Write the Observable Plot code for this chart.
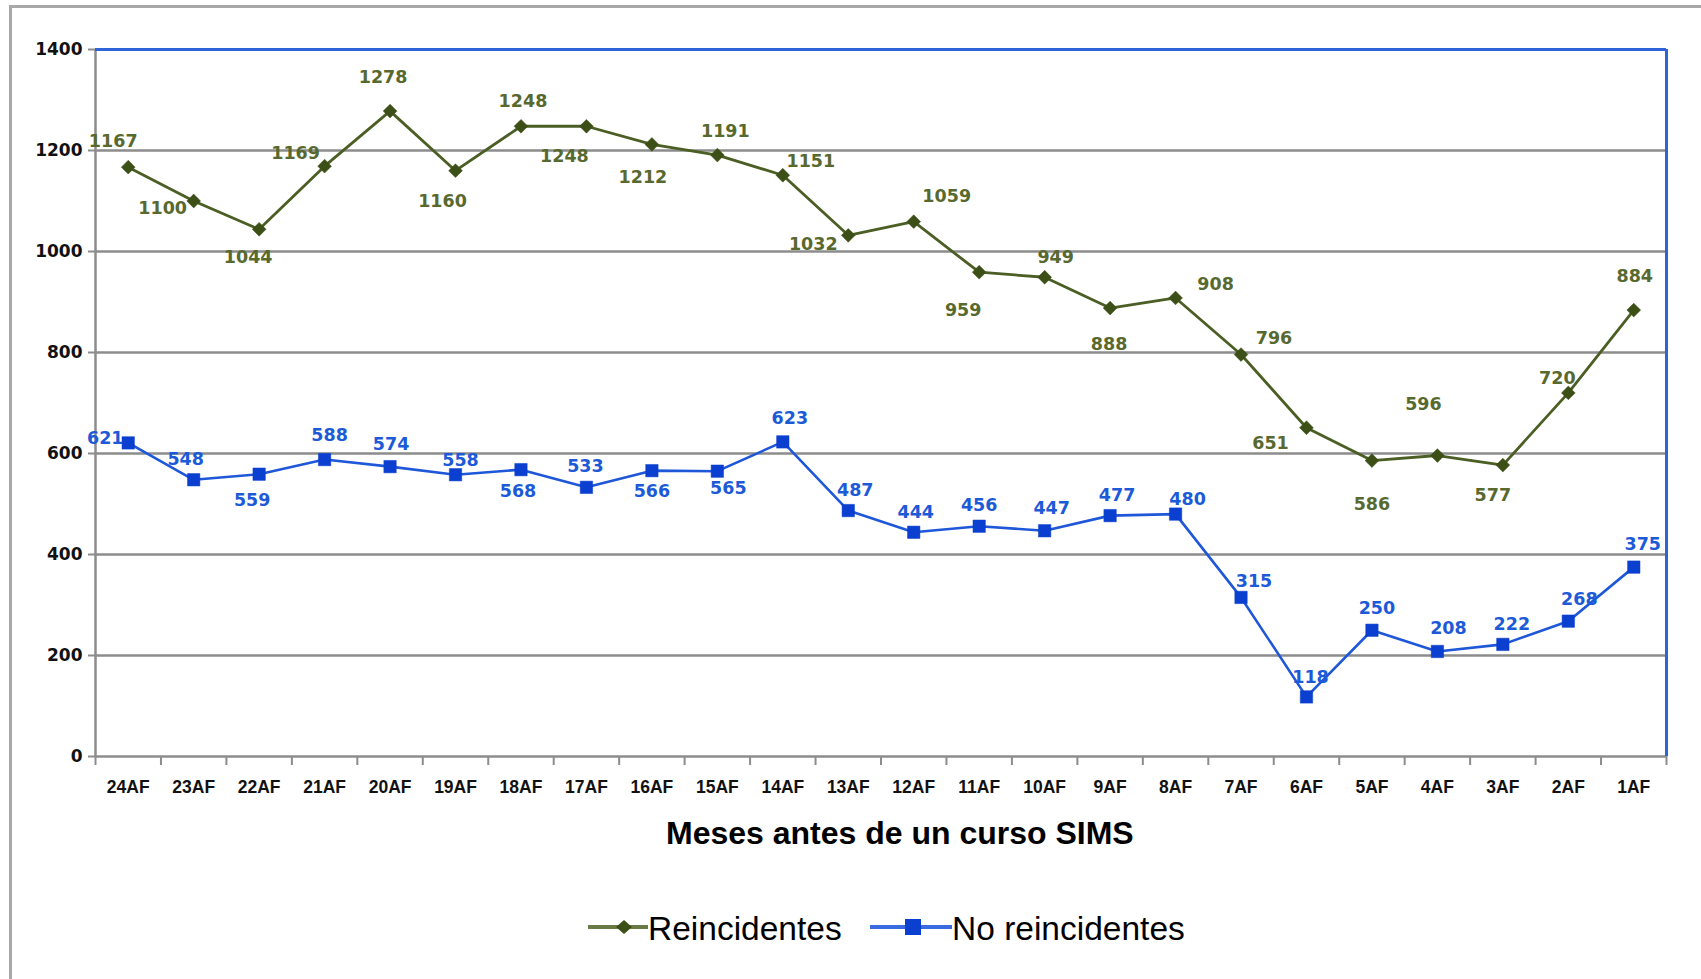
<!DOCTYPE html>
<html>
<head>
<meta charset="utf-8">
<script src="https://cdn.jsdelivr.net/npm/d3@7"></script>
<script src="https://cdn.jsdelivr.net/npm/@observablehq/plot@0.6"></script>
<style>
  html, body { margin: 0; padding: 0; background: #fff; }
  body { width: 1701px; height: 979px; overflow: hidden; position: relative; font-family: "Liberation Sans", Arial, sans-serif; }
  #frame { position: absolute; left: 9px; top: 5px; width: 1800px; height: 1100px; border-top: 3px solid #a8a8a8; border-left: 3px solid #a8a8a8; box-sizing: border-box; }
  #chart { position: absolute; left: 0; top: 0; }
  #xtitle { position: absolute; left: 666px; top: 817px; font: bold 32px/32px "Liberation Sans", Arial, sans-serif; color: #000; white-space: nowrap; }
  .lg { position: absolute; font: 33.5px/34px "Liberation Sans", Arial, sans-serif; color: #000; white-space: nowrap; }
  .sw { position: absolute; }
</style>
</head>
<body>
<div id="frame"></div>
<div id="chart"></div>
<div id="xtitle">Meses antes de un curso SIMS</div>
<div id="legend"></div>
<script>
// ---- data ----
const months = ["24AF","23AF","22AF","21AF","20AF","19AF","18AF","17AF","16AF","15AF","14AF","13AF",
                "12AF","11AF","10AF","9AF","8AF","7AF","6AF","5AF","4AF","3AF","2AF","1AF"];
const reincidentes = [1167,1100,1044,1169,1278,1160,1248,1248,1212,1191,1151,1032,
                      1059,959,949,888,908,796,651,586,596,577,720,884];
const noReincidentes = [621,548,559,588,574,558,568,533,566,565,623,487,
                        444,456,447,477,480,315,118,250,208,222,268,375];
const yTicks = [0,200,400,600,800,1000,1200,1400];
const seriesNames = ["Reincidentes","No reincidentes"];

// ---- label placement (pixel offsets from each marker, style only) ----
const labelOffsetR = [[-15,-26],[-31,7],[-11,28],[-29,-13],[-7,-34],[-13,31],[2,-25],[-22,30],[-9,33],[8,-24],[28,-14],[-35,9],
                      [33,-25],[-16,38],[11,-20],[-1,36],[40,-14],[33,-16],[-36,16],[0,44],[-14,-51],[-10,30],[-11,-15],[1,-34]];
const labelOffsetN = [[-23,-5],[-8,-20],[-7,26],[5,-24],[1,-22],[5,-14],[-3,22],[-1,-21],[0,21],[11,17],[7,-23],[7,-20],
                      [2,-20],[0,-21],[7,-22],[7,-20],[12,-15],[13,-16],[4,-20],[5,-22],[11,-23],[9,-20],[11,-22],[9,-23]];

// ---- styles ----
const GREEN_LINE = "#4b5e24", GREEN_DOT = "#3c4f17", GREEN_TXT = "#58692f";
const BLUE_LINE = "#1f57d9", BLUE_DOT = "#0b3fd0", BLUE_TXT = "#1d5ad8";
const GRID = "#8c8c8c", FRAME_BLUE = "#2f63d8";

const data = months.map((m, i) => ({i, month: m, r: reincidentes[i], n: noReincidentes[i]}));
const idx = months.map((m, i) => i);
const bounds = d3.range(months.length + 1).map(k => k - 0.5);

const labelFont = {fontSize: 17.5, fontWeight: "bold", fontFamily: "DejaVu Sans, Verdana, sans-serif"};

const labelMarks = [];
data.forEach((d, i) => {
  labelMarks.push(Plot.text([d], {x: "i", y: "r", text: dd => String(dd.r), dx: labelOffsetR[i][0], dy: labelOffsetR[i][1], fill: GREEN_TXT, ...labelFont}));
  labelMarks.push(Plot.text([d], {x: "i", y: "n", text: dd => String(dd.n), dx: labelOffsetN[i][0], dy: labelOffsetN[i][1], fill: BLUE_TXT, ...labelFont}));
});

const chart = Plot.plot({
  width: 1701,
  height: 800,
  marginLeft: 95,
  marginRight: 35,
  marginTop: 49,
  marginBottom: 44,
  x: {type: "linear", domain: [-0.5, months.length - 0.5]},
  y: {type: "linear", domain: [yTicks[0], yTicks[yTicks.length - 1]]},
  style: {background: "transparent", overflow: "visible"},
  marks: [
    Plot.gridY(yTicks.filter(v => v > yTicks[0] && v < yTicks[yTicks.length - 1]), {stroke: GRID, strokeOpacity: 1, strokeWidth: 2.5}),
    Plot.ruleY([yTicks[0]], {stroke: GRID, strokeWidth: 2.5}),
    Plot.ruleX([-0.5], {stroke: GRID, strokeWidth: 2.5}),
    Plot.ruleY([yTicks[yTicks.length - 1]], {stroke: FRAME_BLUE, strokeWidth: 3}),
    Plot.ruleX([months.length - 0.5], {stroke: FRAME_BLUE, strokeWidth: 3}),
    Plot.axisY(yTicks, {tickSize: 7, tickPadding: 6, stroke: GRID, strokeWidth: 2, fill: "#111",
      fontSize: 17, fontWeight: "bold", fontFamily: "DejaVu Sans, Verdana, sans-serif", label: null, tickFormat: d => String(d)}),
    Plot.axisX(bounds, {tickSize: 9, stroke: GRID, strokeWidth: 2, tickFormat: () => "", label: null}),
    Plot.axisX(idx, {tickSize: 0, tickPadding: 24, fill: "#111", fontSize: 17.5, fontWeight: "bold",
      fontFamily: "Liberation Sans, Arial, sans-serif", tickFormat: i => months[i], label: null}),
    Plot.line(data, {x: "i", y: "r", stroke: GREEN_LINE, strokeWidth: 2.8}),
    Plot.line(data, {x: "i", y: "n", stroke: BLUE_LINE, strokeWidth: 2.6}),
    Plot.dot(data, {x: "i", y: "r", symbol: "diamond2", r: 6.2, fill: GREEN_DOT, stroke: GREEN_DOT, strokeWidth: 0.5}),
    Plot.dot(data, {x: "i", y: "n", symbol: "square", r: 7, fill: BLUE_DOT, stroke: BLUE_DOT, strokeWidth: 0.5}),
    ...labelMarks
  ]
});
document.getElementById("chart").appendChild(chart);

// ---- legend ----
const legend = document.getElementById("legend");
const ns = "http://www.w3.org/2000/svg";
function swatch(left, width, markX, color, kind) {
  const s = document.createElementNS(ns, "svg");
  s.setAttribute("width", width); s.setAttribute("height", 24);
  s.setAttribute("class", "sw");
  s.style.left = left + "px"; s.style.top = (927 - 12) + "px";
  const l = document.createElementNS(ns, "line");
  l.setAttribute("x1", 0); l.setAttribute("x2", width); l.setAttribute("y1", 12); l.setAttribute("y2", 12);
  l.setAttribute("stroke", color); l.setAttribute("stroke-width", 4);
  s.appendChild(l);
  const p = document.createElementNS(ns, "path");
  if (kind === "diamond") {
    p.setAttribute("d", `M${markX},5 L${markX + 8},12 L${markX},19 L${markX - 8},12 Z`);
    p.setAttribute("fill", GREEN_DOT);
  } else {
    p.setAttribute("d", `M${markX - 8},4 h16 v16 h-16 Z`);
    p.setAttribute("fill", BLUE_DOT);
  }
  s.appendChild(p);
  legend.appendChild(s);
}
function legendText(left, txt) {
  const d = document.createElement("div");
  d.className = "lg"; d.textContent = txt;
  d.style.left = left + "px"; d.style.top = (929 - 17) + "px";
  legend.appendChild(d);
}
swatch(588, 60, 36, "#6b7b45", "diamond");
legendText(648, seriesNames[0]);
swatch(870, 82, 43, "#3a6ce0", "square");
legendText(952, seriesNames[1]);
</script>
</body>
</html>
